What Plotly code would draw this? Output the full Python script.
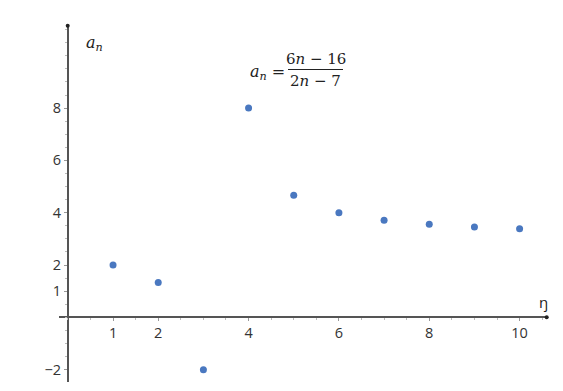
import plotly.graph_objects as go

n_vals = [1, 2, 3, 4, 5, 6, 7, 8, 9, 10]
a_vals = [2.0, 1.333, -2.0, 8.0, 4.667, 4.0, 3.714, 3.556, 3.455, 3.385]
x_tick_vals = [1, 2, 4, 6, 8, 10]
y_tick_vals = [-2, 1, 2, 4, 6, 8]

W, H = 563, 391
def px(x): return x / W
def py(y): return 1 - y / H

axis_color = "#555555"
tick_font = dict(family="Open Sans, Arial", size=14.5, color="#333333")

fig = go.Figure()
fig.add_trace(go.Scatter(
    x=n_vals, y=a_vals, mode="markers",
    marker=dict(color="#4a78c0", size=7),
    showlegend=False, hoverinfo="skip"))

fig.update_layout(
    width=W, height=H,
    margin=dict(l=0, r=0, t=0, b=0),
    plot_bgcolor="white", paper_bgcolor="white",
    xaxis=dict(
        domain=[px(59.3), px(546.7)], range=[-0.19, 10.6],
        anchor="free", position=py(317.3),
        showline=True, linecolor=axis_color, linewidth=1.5,
        showgrid=False, zeroline=False,
        tickmode="array", tickvals=x_tick_vals,
        ticks="outside", ticklen=3, tickcolor="#999999",
        minor=dict(dtick=0.5, tick0=0, ticks="outside", ticklen=2, tickcolor="#bbbbbb"),
        tickfont=tick_font, fixedrange=True),
    yaxis=dict(
        domain=[py(381.7), py(25.7)], range=[-2.46, 11.15],
        anchor="free", position=px(67.7),
        showline=True, linecolor=axis_color, linewidth=1.5,
        showgrid=False, zeroline=False,
        tickmode="array", tickvals=y_tick_vals,
        ticks="outside", ticklen=3, tickcolor="#999999",
        minor=dict(dtick=0.5, tick0=0, ticks="outside", ticklen=2, tickcolor="#bbbbbb"),
        tickfont=tick_font, fixedrange=True),
)

serif = "DejaVu Serif, Liberation Serif, serif"
ann = []
# axis labels
ann.append(dict(x=px(94), y=py(44), xref="paper", yref="paper", showarrow=False,
                text="<i>a</i><sub><i>n</i></sub>", font=dict(family=serif, size=16, color="#222"),
                xanchor="center", yanchor="middle"))
ann.append(dict(x=px(543), y=py(302), xref="paper", yref="paper", showarrow=False,
                text="ŋ", font=dict(family="Open Sans, Arial", size=15, color="#222"),
                xanchor="center", yanchor="middle"))
# formula
ann.append(dict(x=px(287), y=py(72), xref="paper", yref="paper", showarrow=False,
                text="<i>a</i><sub><i>n</i></sub> =", font=dict(family=serif, size=16, color="#222"),
                xanchor="right", yanchor="middle"))
ann.append(dict(x=px(315.5), y=py(59), xref="paper", yref="paper", showarrow=False,
                text="6<i>n</i> − 16", font=dict(family=serif, size=15, color="#222"),
                xanchor="center", yanchor="middle"))
ann.append(dict(x=px(315.5), y=py(81), xref="paper", yref="paper", showarrow=False,
                text="2<i>n</i> − 7", font=dict(family=serif, size=15, color="#222"),
                xanchor="center", yanchor="middle"))
fig.update_layout(annotations=ann)

shapes = [
    dict(type="line", xref="paper", yref="paper", x0=px(288), x1=px(343), y0=py(69.5), y1=py(69.5),
         line=dict(color="#222", width=1)),
    dict(type="circle", xref="paper", yref="paper", x0=px(65.7), x1=px(69.7), y0=py(23.7), y1=py(27.7),
         fillcolor="#222", line=dict(width=0)),
    dict(type="circle", xref="paper", yref="paper", x0=px(544.7), x1=px(548.7), y0=py(315.3), y1=py(319.3),
         fillcolor="#222", line=dict(width=0)),
]
fig.update_layout(shapes=shapes)

fig.write_html("out.html")
